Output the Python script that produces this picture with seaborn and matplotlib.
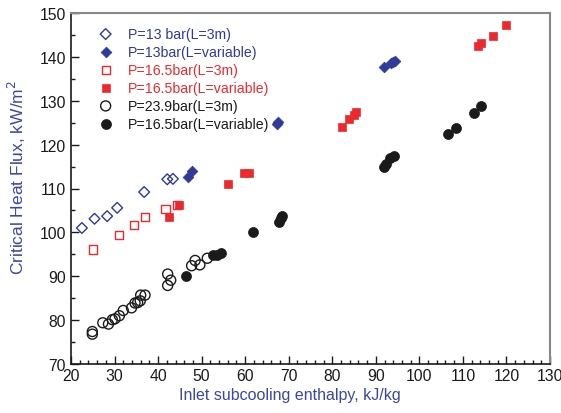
import matplotlib
matplotlib.use("Agg")
import matplotlib.pyplot as plt
import seaborn as sns
import pandas as pd
from matplotlib.ticker import MultipleLocator

sns.set_style("ticks")
plt.rcParams['font.family'] = ['Liberation Sans', 'DejaVu Sans']

# Series data (x: inlet subcooling enthalpy kJ/kg, y: CHF kW/m2)
p13_open_x = [22.5, 25.4, 28.3, 30.6, 36.8, 42.1, 43.4]
p13_open_y = [101.0, 103.1, 103.7, 105.6, 109.2, 112.1, 112.2]

p13_fill_x = [46.9, 47.7, 67.2, 67.5, 91.8, 93.5, 94.0, 94.4]
p13_fill_y = [112.6, 114.0, 124.7, 125.2, 137.8, 138.5, 138.8, 139.0]

p165_open_x = [25.1, 31.1, 34.5, 37.0, 41.7, 44.4]
p165_open_y = [96.1, 99.4, 101.7, 103.5, 105.3, 106.3]

p165_fill_x = [42.6, 44.9, 56.1, 59.8, 60.8, 82.3, 83.9, 85.0, 85.5, 113.5, 114.2, 117.0, 120.0]
p165_fill_y = [103.4, 106.2, 111.0, 113.6, 113.6, 124.0, 125.8, 126.8, 127.4, 142.5, 143.2, 144.7, 147.2]

p239_open_x = [24.9, 24.9, 27.3, 28.6, 29.5, 30.1, 31.1, 32.0, 33.9, 34.7, 35.3,
               35.9, 36.0, 37.0, 42.2, 42.9, 42.2, 47.7, 48.5, 49.6, 51.3]
p239_open_y = [77.4, 76.8, 79.4, 79.1, 80.1, 80.3, 81.0, 82.2, 82.8, 83.9, 84.0,
               84.4, 85.7, 85.7, 90.5, 89.1, 87.9, 92.4, 93.6, 92.6, 94.1]

p165b_fill_x = [46.3, 52.7, 53.5, 54.4, 61.7, 67.8, 68.2, 68.4, 91.8, 92.3, 93.3, 94.2,
                106.5, 108.4, 112.6, 114.2]
p165b_fill_y = [90.1, 94.8, 94.8, 95.3, 100.0, 102.4, 103.2, 103.7, 115.0, 115.6, 117.0, 117.5,
                122.5, 123.7, 127.1, 128.8]

labels = ["P=13 bar(L=3m)", "P=13bar(L=variable)", "P=16.5bar(L=3m)",
          "P=16.5bar(L=variable)", "P=23.9bar(L=3m)", "P=16.5bar(L=variable)"]

BLUE = "#2e3b98"
RED = "#ec2a2e"
BLACK = "#1a1a1a"

fig = plt.figure(figsize=(5.61, 4.14), dpi=100)
ax = fig.add_axes([71/561, 1 - 365/414, (550-71)/561, (365-14)/414])

series = [
    (p13_open_x, p13_open_y, 'D', BLUE, False, 30),
    (p13_fill_x, p13_fill_y, 'D', BLUE, True, 30),
    (p165_open_x, p165_open_y, 's', RED, False, 34),
    (p165_fill_x, p165_fill_y, 's', RED, True, 34),
    (p239_open_x, p239_open_y, 'o', BLACK, False, 52),
    (p165b_fill_x, p165b_fill_y, 'o', BLACK, True, 52),
]
handles = []
for (xs, ys, m, c, filled, s), lab in zip(series, labels):
    df = pd.DataFrame({"x": xs, "y": ys})
    if filled:
        sns.scatterplot(data=df, x="x", y="y", marker=m, s=s, color=c,
                        edgecolor=c, linewidth=0.5, ax=ax, zorder=3)
    else:
        sns.scatterplot(data=df, x="x", y="y", marker=m, s=s, facecolor="none",
                        edgecolor=c, linewidth=1.0, ax=ax, zorder=3)
    handles.append(ax.collections[-1])

ax.set_xlim(20, 130)
ax.set_ylim(70, 150)
ax.xaxis.set_major_locator(MultipleLocator(10))
ax.xaxis.set_minor_locator(MultipleLocator(2))
ax.yaxis.set_major_locator(MultipleLocator(10))
ax.yaxis.set_minor_locator(MultipleLocator(5))
ax.tick_params(which='both', direction='in', top=False, right=False, labelsize=11.3,
               colors=BLACK, width=1)
ax.tick_params(which='major', length=6)
ax.tick_params(which='minor', length=3)
ax.tick_params(axis='x', pad=3)
for sp in ['left', 'bottom']:
    ax.spines[sp].set_color(BLACK)
    ax.spines[sp].set_linewidth(1.2)
for sp in ['top', 'right']:
    ax.spines[sp].set_visible(True)
    ax.spines[sp].set_color('#888888')
    ax.spines[sp].set_linewidth(1.5)

ax.set_xlabel("Inlet subcooling enthalpy, kJ/kg", color="#3a47a3", fontsize=11.5)
ax.xaxis.set_label_coords((290 - 71) / 479, -(388 - 365) / 351)
ax.set_ylabel("Critical Heat Flux, kW/m$^2$", color="#3a47a3", fontsize=12.5)
ax.yaxis.set_label_coords(-(71 - 28) / 479, (365 - 178) / 351)

leg = ax.legend(handles, labels, loc='upper left', frameon=False, fontsize=10.2,
                bbox_to_anchor=(0.025, 0.985), handletextpad=0.6, labelspacing=0.28,
                borderaxespad=0.2)
for t, col in zip(leg.get_texts(), [BLUE, BLUE, RED, RED, BLACK, BLACK]):
    t.set_color(col)

fig.savefig("out.png", dpi=100)
